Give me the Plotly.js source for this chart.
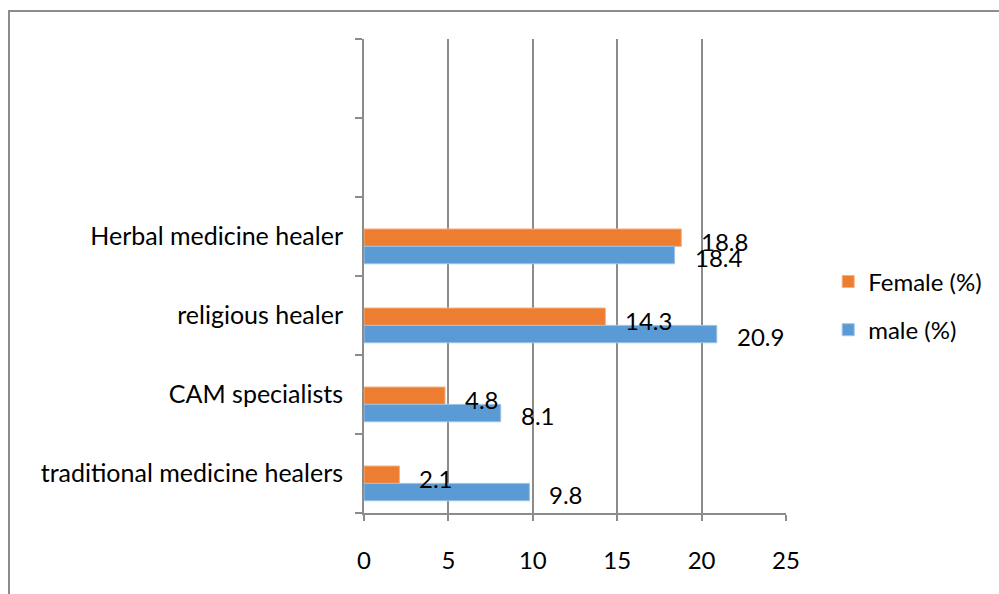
<!DOCTYPE html>
<html>
<head>
<meta charset="utf-8">
<script src="https://cdn.plot.ly/plotly-3.0.1.min.js"></script>
<style>
  html, body { margin: 0; padding: 0; background: #fff; }
  #chart { width: 999px; height: 594px; }
  #frame { position: absolute; left: 8px; top: 10px; width: 999px; height: 600px;
           border-left: 2px solid #8c8c8c; border-top: 2px solid #8c8c8c; pointer-events: none; }
</style>
</head>
<body>
<div id="chart"></div>
<div id="frame"></div>
<script>
// ---- data ----
const categories = ['traditional medicine healers', 'CAM specialists', 'religious healer', 'Herbal medicine healer'];
const emptySlots = [' ', '  '];
const femaleValues = [2.1, 4.8, 14.3, 18.8];
const maleValues = [9.8, 8.1, 20.9, 18.4];
const seriesNames = ['Female (%)', 'male (%)'];
const xTicks = [0, 5, 10, 15, 20, 25];

// ---- styles ----
const ORANGE = '#ED7D31';
const BLUE = '#5B9BD5';
const GRID = '#8c8c8c';
const FONT = 'Lato, "Liberation Sans", sans-serif';
const BAR_W = 0.22;

const traces = [
  {
    type: 'bar', orientation: 'h', name: seriesNames[0],
    y: categories, x: femaleValues,
    width: BAR_W, offset: -0.125,
    marker: { color: ORANGE, line: { color: '#F4B183', width: 1 } },
    legendgroup: 'f', hoverinfo: 'skip'
  },
  {
    type: 'bar', orientation: 'h', name: seriesNames[1],
    y: categories, x: maleValues,
    width: BAR_W, offset: -0.125 - BAR_W,
    marker: { color: BLUE, line: { color: '#9DC3E6', width: 1 } },
    legendgroup: 'm', hoverinfo: 'skip'
  }
];

const annotations = [];
categories.forEach((c, i) => {
  annotations.push({ x: femaleValues[i], y: c, text: String(femaleValues[i]),
    xanchor: 'left', yanchor: 'middle', xshift: 18, yshift: -5, showarrow: false,
    font: { family: FONT, size: 24, color: '#000' } });
  annotations.push({ x: maleValues[i], y: c, text: String(maleValues[i]),
    xanchor: 'left', yanchor: 'middle', xshift: 18, yshift: -21, showarrow: false,
    font: { family: FONT, size: 24, color: '#000' } });
});

const layout = {
  width: 999, height: 594,
  margin: { l: 364, r: 209, t: 39, b: 81 },
  paper_bgcolor: '#fff', plot_bgcolor: '#fff',
  font: { family: FONT, size: 24, color: '#000' },
  showlegend: true,
  barmode: 'overlay',
  xaxis: {
    range: [0, 25], tickvals: xTicks, ticktext: xTicks.map(String),
    showgrid: true, gridcolor: GRID, gridwidth: 2,
    zeroline: false, showline: true, linecolor: GRID, linewidth: 2,
    ticks: 'outside', ticklen: 6, tickwidth: 2, tickcolor: GRID,
    ticklabelstandoff: 19,
    tickfont: { family: FONT, size: 24, color: '#000' },
    fixedrange: true
  },
  yaxis: {
    type: 'category', categoryorder: 'array',
    categoryarray: categories.concat(emptySlots),
    range: [-0.5, 5.5],
    tickson: 'boundaries',
    showgrid: false, zeroline: false,
    showline: true, linecolor: GRID, linewidth: 2,
    ticks: 'outside', ticklen: 7, tickwidth: 2, tickcolor: GRID,
    ticklabelstandoff: 14,
    tickfont: { family: FONT, size: 25, color: '#000' },
    fixedrange: true
  },
  legend: {
    x: 1.1, xanchor: 'left', y: 0.535, yanchor: 'top',
    traceorder: 'grouped', tracegroupgap: 14,
    font: { family: FONT, size: 24, color: '#000' },
    bgcolor: 'rgba(0,0,0,0)', borderwidth: 0
  },
  annotations: annotations
};

Plotly.newPlot('chart', traces, layout, { displayModeBar: false, staticPlot: true });
</script>
</body>
</html>
